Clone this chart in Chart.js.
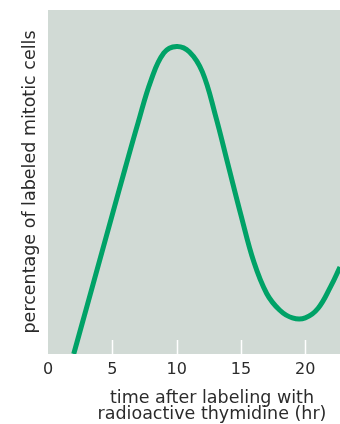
<!DOCTYPE html>
<html>
<head>
<meta charset="utf-8">
<script src="https://cdn.jsdelivr.net/npm/chart.js@4"></script>
<style>
html,body{margin:0;padding:0;background:#fff;}
#wrap{width:340px;height:424px;position:relative;}
</style>
</head>
<body>
<div id="wrap"><canvas id="c" width="340" height="424"></canvas></div>
<script>
const hours = [2, 3, 4, 5, 6, 7, 8, 9, 10, 11, 12, 13, 14, 15, 16, 17, 18, 19, 20, 21, 22, 22.7];
const labeledPct = [0, 13.5, 27, 40.5, 54, 67.2, 79.5, 87.5, 89.4, 87.8, 82, 69.6, 55, 40.4, 26.8, 17.6, 12.8, 10.5, 10.5, 13.3, 19.8, 25.3];
const xTicks = [0, 5, 10, 15, 20];
const xTitle = ["time after labeling with", "radioactive thymidine (hr)"];
const yTitle = "percentage of labeled mitotic cells";

const FONT = "'DejaVu Sans', sans-serif";
const TEXT = '#2b2b2b';

const bgPlugin = {
  id: 'bg',
  beforeDraw(chart) {
    const {ctx, chartArea: a} = chart;
    ctx.save();
    ctx.fillStyle = '#d1dad5';
    ctx.fillRect(a.left, a.top, a.right - a.left, a.bottom - a.top);
    const xs = chart.scales.x;
    ctx.strokeStyle = '#ffffff';
    ctx.lineWidth = 1.5;
    xTicks.forEach(v => {
      if (v === 0) return;
      const px = Math.round(xs.getPixelForValue(v)) + 0.5;
      ctx.beginPath();
      ctx.moveTo(px, a.bottom);
      ctx.lineTo(px, a.bottom - 14);
      ctx.stroke();
    });
    ctx.restore();
  },
  afterDraw(chart) {
    const {ctx, chartArea: a} = chart;
    ctx.save();
    ctx.fillStyle = TEXT;
    ctx.font = "17.5px " + FONT;
    ctx.textAlign = 'center';
    ctx.textBaseline = 'alphabetic';
    const cx = a.left + 164;
    ctx.fillText(xTitle[0], cx, a.bottom + 49);
    ctx.fillText(xTitle[1], cx, a.bottom + 65);
    ctx.restore();
  }
};

new Chart(document.getElementById('c'), {
  type: 'scatter',
  data: {
    datasets: [{
      data: hours.map((h, i) => ({x: h, y: labeledPct[i]})),
      showLine: true,
      borderColor: '#00a267',
      borderWidth: 5,
      pointRadius: 0,
      tension: 0.4,
      borderCapStyle: 'butt',
      borderJoinStyle: 'round'
    }]
  },
  options: {
    responsive: false,
    animation: false,
    layout: {padding: {top: 10, right: 0, left: 0, bottom: 0}},
    plugins: {legend: {display: false}, tooltip: {enabled: false}},
    scales: {
      x: {
        type: 'linear',
        min: 0,
        max: 22.7,
        afterBuildTicks(s) { s.ticks = xTicks.map(v => ({value: v})); },
        afterFit(s) { s.height = 70; },
        grid: {display: false, drawTicks: false},
        border: {display: false},
        ticks: {color: TEXT, font: {family: FONT, size: 16}, padding: 6, maxRotation: 0, autoSkip: false}
      },
      y: {
        min: 0,
        max: 100,
        afterFit(s) { s.width = 48; },
        grid: {display: false, drawTicks: false},
        border: {display: false},
        ticks: {display: false},
        title: {display: true, text: yTitle, color: TEXT, font: {family: FONT, size: 17.5}, padding: {top: 20, bottom: 0}}
      }
    }
  },
  plugins: [bgPlugin]
});
</script>
</body>
</html>
